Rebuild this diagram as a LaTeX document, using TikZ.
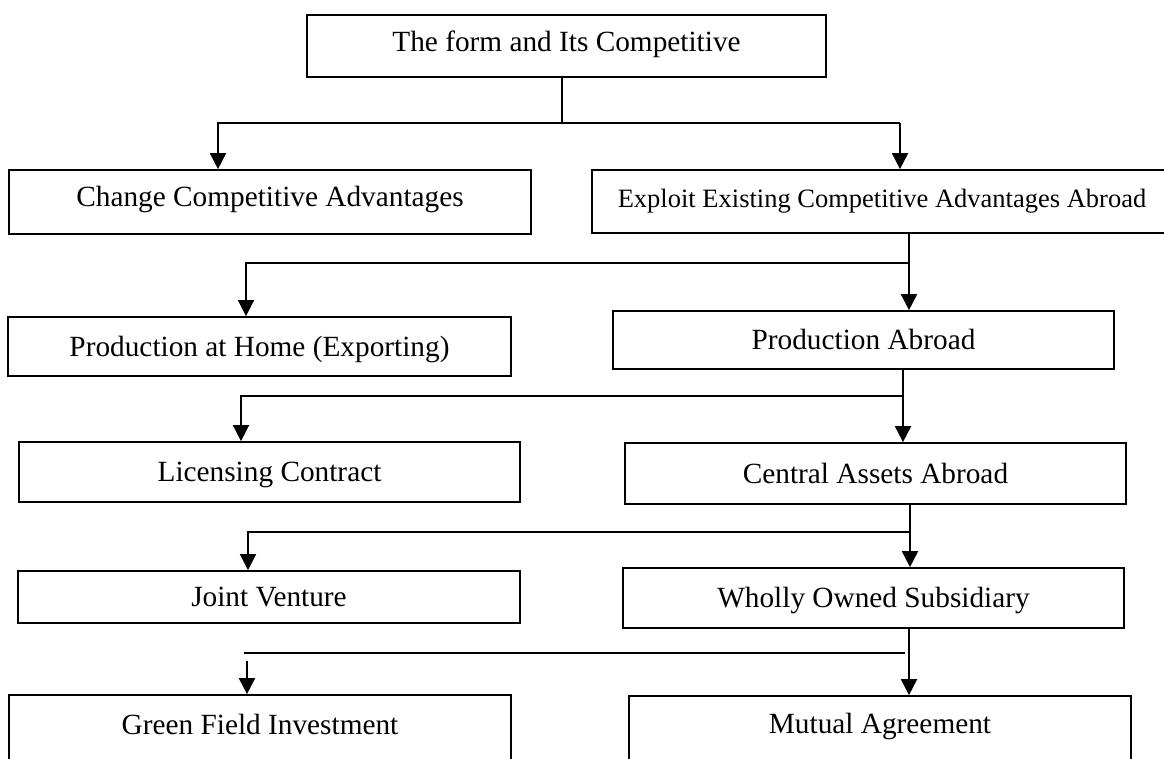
\documentclass[tikz,border=0pt]{standalone}
\usepackage{fontspec}
\setmainfont{Liberation Serif}
\usetikzlibrary{arrows.meta}
\begin{document}
\begin{tikzpicture}[x=1pt,y=-1pt,
  box/.style={draw, line width=1.7pt, inner sep=0pt, anchor=center,
    font=\fontsize{29.3}{35}\selectfont, text height=19.4pt, text depth=0pt},
  link/.style={line width=1.5pt},
  arr/.style={line width=1.8pt, -{Triangle[length=16pt,width=16pt]}}]
\useasboundingbox (0,0) rectangle (1164,758);
% boxes
\node[box, minimum width=519pt, minimum height=62pt, text depth=8pt] (top) at (566.5,46) {The form and Its Competitive};
\node[box, minimum width=522pt, minimum height=64pt, text depth=10pt] (change) at (270,202) {Change Competitive Advantages};
\node[box, minimum width=580pt, minimum height=63pt, font=\fontsize{26.5}{32}\selectfont, text height=17.5pt, text depth=5pt] (exploit) at (882,201.5) {Exploit Existing Competitive Advantages Abroad};
\node[box, minimum width=503pt, minimum height=59pt] (home) at (259.5,346.5) {Production at Home (Exporting)};
\node[box, minimum width=501pt, minimum height=58pt] (pabroad) at (863.5,340) {Production Abroad};
\node[box, minimum width=501pt, minimum height=60pt] (lic) at (269.5,472) {Licensing Contract};
\node[box, minimum width=501pt, minimum height=61pt] (central) at (875.5,473.5) {Central Assets Abroad};
\node[box, minimum width=502pt, minimum height=52pt] (joint) at (269,597) {Joint Venture};
\node[box, minimum width=501pt, minimum height=60pt] (wholly) at (873.5,598) {Wholly Owned Subsidiary};
\node[box, minimum width=502pt, minimum height=70pt, text depth=11pt] (green) at (260,730) {Green Field Investment};
\node[box, minimum width=502pt, minimum height=69pt, text depth=13pt] (mutual) at (880,730.5) {Mutual Agreement};
% junction points
\coordinate (h1) at (562,123);
\coordinate (l1) at (218,123);
\coordinate (r1) at (900,123);
\coordinate (v2) at (909,263);
\coordinate (l2) at (246,263);
\coordinate (v3) at (903,396);
\coordinate (l3) at (241,396);
\coordinate (v4) at (910,532);
\coordinate (l4) at (248,532);
\coordinate (v5) at (909,653);
\coordinate (e5) at (905,653);
\coordinate (l5) at (244,653);
\coordinate (s5) at (247,661);
% connectors
\draw[line width=1.3pt] (top.south -| h1) -- (h1);
\draw[arr] (r1) -- (l1) -- (l1 |- change.north);
\draw[arr] (r1) -- (r1 |- exploit.north);
\draw[arr] (exploit.south -| v2) -- (v2 |- pabroad.north);
\draw[arr, line width=1.5pt] (v2) -- (l2) -- (l2 |- home.north);
\draw[arr] (pabroad.south -| v3) -- (v3 |- central.north);
\draw[arr, line width=1.5pt] (v3) -- (l3) -- (l3 |- lic.north);
\draw[arr] (central.south -| v4) -- (v4 |- wholly.north);
\draw[arr, line width=1.5pt] (v4) -- (l4) -- (l4 |- joint.north);
\draw[arr] (wholly.south -| v5) -- (v5 |- mutual.north);
\draw[line width=2.2pt] (l5) -- (e5);
\draw[arr] (s5) -- (s5 |- green.north);
\end{tikzpicture}
\end{document}
